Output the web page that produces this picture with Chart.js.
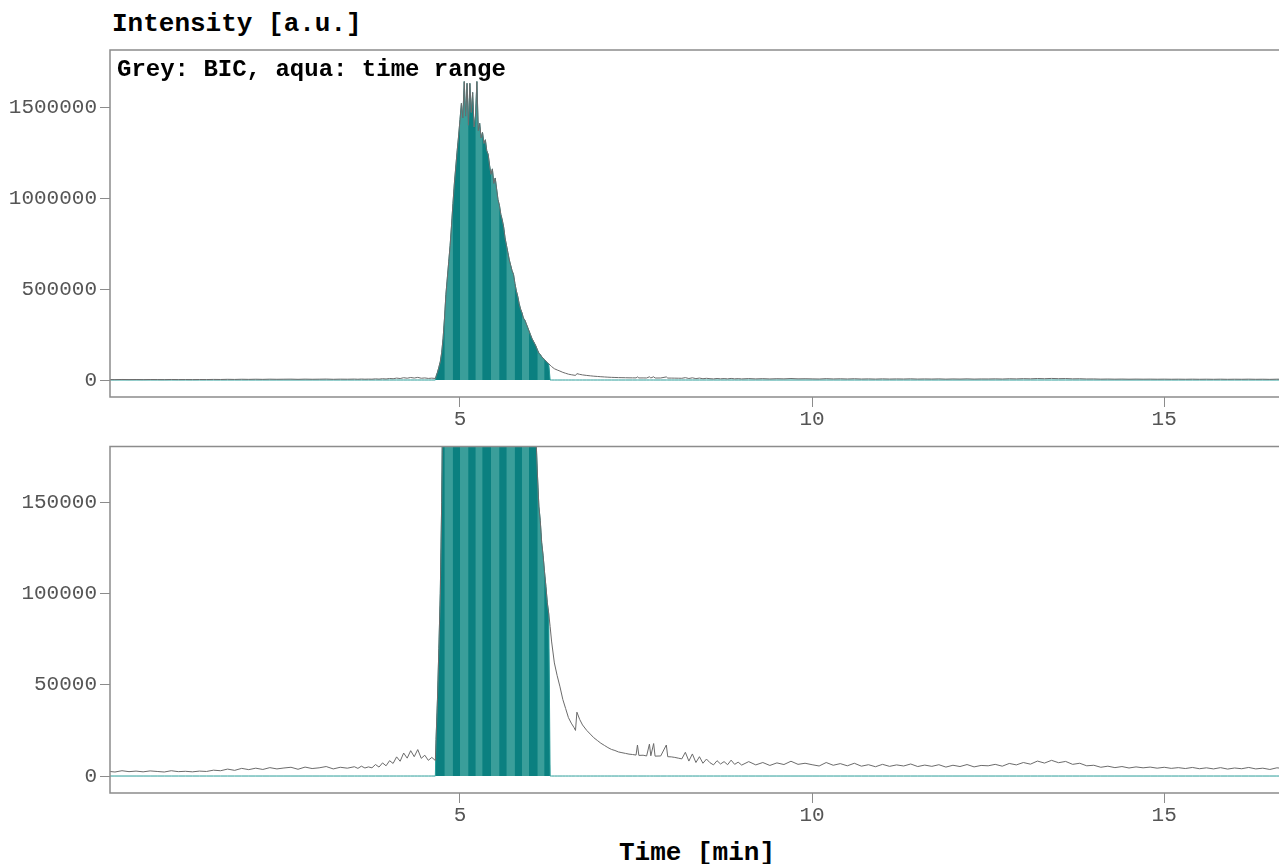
<!DOCTYPE html>
<html>
<head>
<meta charset="utf-8">
<script src="https://cdn.jsdelivr.net/npm/chart.js@4.4.1/dist/chart.umd.min.js"></script>
<style>
  body { margin: 0; background: #fff; width: 1279px; height: 864px; position: relative; overflow: hidden; font-family: "Liberation Mono", monospace; }
  .box { position: absolute; left: 0; width: 1279px; }
  #top { top: 0; height: 430px; }
  #bottom { top: 430px; height: 400px; }
  .lbl { position: absolute; font-weight: bold; color: #000; white-space: nowrap; }
</style>
</head>
<body>
<div class="lbl" style="left:112px; top:8px; font-size:26px; line-height:32px;">Intensity [a.u.]</div>
<div class="box" id="top"><canvas id="chartTop"></canvas></div>
<div class="box" id="bottom"><canvas id="chartBottom"></canvas></div>
<div class="lbl" style="left:117px; top:56px; font-size:24px; line-height:28px;">Grey: BIC, aqua: time range</div>
<div class="lbl" style="left:0; width:1394px; text-align:center; top:838px; font-size:26px; line-height:30px;">Time [min]</div>

<script>
// retention time [min]
const times = [
  0.0, 0.1, 0.2, 0.3, 0.4, 0.5, 0.6, 0.7, 0.8, 0.9,
  1.0, 1.1, 1.2, 1.3, 1.4, 1.5, 1.6, 1.7, 1.8, 1.9,
  2.0, 2.1, 2.2, 2.3, 2.4, 2.5, 2.6, 2.7, 2.8, 2.9,
  3.0, 3.1, 3.2, 3.3, 3.4, 3.5,
  3.55, 3.6, 3.65, 3.7, 3.75, 3.8, 3.85, 3.9, 3.95, 4.0,
  4.05, 4.1, 4.15, 4.2, 4.25, 4.3, 4.35, 4.4, 4.45, 4.5,
  4.55, 4.6, 4.65,
  4.66, 4.68, 4.70, 4.72, 4.74, 4.76, 4.78, 4.80, 4.82, 4.84,
  4.86, 4.88, 4.90, 4.92, 4.94, 4.96, 4.98, 5.00,
  5.02, 5.04, 5.06, 5.08, 5.10, 5.12, 5.14, 5.16, 5.18, 5.20,
  5.22, 5.24, 5.26, 5.28, 5.30, 5.32, 5.34, 5.36, 5.38, 5.40,
  5.42, 5.44, 5.46, 5.48, 5.50, 5.52, 5.54, 5.56, 5.58, 5.60,
  5.62, 5.64, 5.66, 5.68, 5.70, 5.72, 5.74, 5.76, 5.78, 5.80,
  5.82, 5.84, 5.86, 5.88, 5.90, 5.92, 5.94, 5.96, 5.98, 6.00,
  6.02, 6.04, 6.06, 6.08, 6.10, 6.12, 6.14, 6.16, 6.18, 6.20,
  6.22, 6.24, 6.26, 6.28, 6.30,
  6.34, 6.38, 6.42, 6.46, 6.50, 6.54, 6.58, 6.62, 6.64, 6.66,
  6.70, 6.74, 6.80, 6.85, 6.90, 6.95, 7.00, 7.05, 7.10, 7.15,
  7.20, 7.25, 7.30, 7.35, 7.40, 7.45, 7.50, 7.52, 7.54, 7.60,
  7.65, 7.69, 7.71, 7.75, 7.77, 7.85, 7.93, 7.95, 8.00, 8.05,
  8.10, 8.15, 8.20, 8.25, 8.30, 8.35, 8.40, 8.45, 8.50, 8.55,
  8.60, 8.65, 8.70, 8.75, 8.80, 8.85, 8.90, 8.95, 9.0,
  9.1, 9.2, 9.3, 9.4, 9.5, 9.6, 9.7, 9.8, 9.9, 10.0,
  10.1, 10.2, 10.3, 10.4, 10.5, 10.6, 10.7, 10.8, 10.9, 11.0,
  11.1, 11.2, 11.3, 11.4, 11.5, 11.6, 11.7, 11.8, 11.9, 12.0,
  12.1, 12.2, 12.3, 12.4, 12.5, 12.6, 12.7, 12.8, 12.9, 13.0,
  13.1, 13.2, 13.3, 13.4, 13.5, 13.6, 13.7, 13.8, 13.9, 14.0,
  14.1, 14.2, 14.3, 14.4, 14.5, 14.6, 14.7, 14.8, 14.9, 15.0,
  15.1, 15.2, 15.3, 15.4, 15.5, 15.6, 15.7, 15.8, 15.9, 16.0,
  16.1, 16.2, 16.3, 16.4, 16.5, 16.6, 16.7
];

// base ion chromatogram intensity [a.u.]
const bic = [
  2600, 2200, 2900, 2400, 2700, 2300, 2800, 2500, 2200, 2900,
  2400, 2600, 2300, 2700, 2500, 3200, 2900, 3800, 3100, 4200,
  3500, 4300, 3600, 4600, 3900, 4400, 4800, 3700, 4900, 4100,
  4500, 5200, 3900, 4800, 4300, 5100,
  4200, 5400, 4400, 5000, 4500, 6300, 4900, 7200, 5600, 8400,
  6900, 10500, 8100, 12600, 9800, 13900, 10600, 14500, 9700, 11400,
  8600, 10200, 8500,
  20000, 42000, 70000, 100000, 150000, 230000, 340000, 470000, 560000, 650000,
  740000, 850000, 970000, 1080000, 1170000, 1260000, 1340000, 1430000,
  1520000, 1440000, 1640000, 1450000, 1630000, 1400000, 1630000, 1470000, 1580000, 1390000,
  1450000, 1640000, 1370000, 1410000, 1330000, 1360000, 1300000, 1320000, 1260000, 1240000,
  1180000, 1130000, 1160000, 1080000, 1110000, 1050000, 990000, 960000, 910000, 880000,
  840000, 780000, 740000, 700000, 660000, 630000, 600000, 580000, 530000, 490000,
  460000, 420000, 390000, 370000, 340000, 330000, 310000, 290000, 270000, 250000,
  230000, 215000, 200000, 185000, 165000, 148000, 140000, 128000, 121000, 112000,
  104000, 95000, 89000, 82000, 74000,
  62000, 55000, 48900, 42000, 37000, 32000, 29000, 26500, 25000, 35000,
  31000, 28000, 25000, 23000, 21000, 19500, 18000, 16800, 15600, 14600,
  14000, 13200, 12800, 12400, 12000, 11800, 11500, 17000, 11300, 11400,
  11000, 17500, 11100, 17800, 10900, 11000, 17000, 10600, 10500, 10200,
  9800, 9400, 13000, 8200, 12100, 7400, 10600, 7000, 9300, 7300,
  6100, 8400, 6600, 7900, 6200, 8700, 6400, 7600, 6000,
  7900, 6100, 7400, 5800, 7200, 6300, 8100, 6400, 7000, 6200,
  5500, 7400, 5900, 6800, 5600, 7000, 5400, 6200, 5100, 6400,
  5300, 6100, 5500, 6600, 5200, 6000, 5300, 6200, 4900, 5900,
  5200, 6300, 5000, 5800, 5600, 6400, 5400, 6900, 6100, 7400,
  6500, 8200, 7100, 8600, 7300, 8000, 6400, 7000, 5600, 5900,
  4800, 5400, 4600, 5200, 4400, 5000, 4500, 4900, 4300, 4800,
  4200, 4600, 4100, 4700, 4000, 4500, 3900, 4600, 3800, 4400,
  4000, 4700, 3900, 4300, 3600, 4500, 4100
];

const rangeStart = 4.66;
const rangeEnd = 6.27;

const xTicks = [5, 10, 15];
const topTicks = [0, 500000, 1000000, 1500000];
const bottomTicks = [0, 50000, 100000, 150000];

if (times.length !== bic.length) console.log('length mismatch', times.length, bic.length);

const bicPoints = times.map((t, i) => ({x: t, y: bic[i]}));
const rangePoints = times.map((t, i) => ({x: t, y: (t >= rangeStart && t <= rangeEnd) ? bic[i] : 0}));

function stripe(x) {
  return Math.floor((x - rangeStart) / 0.11) % 2 === 0 ? '#0b8080' : '#3a9e9a';
}

const tickFont = {family: 'Liberation Mono', size: 21};

const framePlugin = {
  id: 'frame',
  afterDatasetsDraw(chart) {
    const {ctx, chartArea: a} = chart;
    ctx.save();
    ctx.strokeStyle = '#8c8c8c';
    ctx.lineWidth = 1.5;
    ctx.beginPath();
    ctx.moveTo(a.right, a.top);
    ctx.lineTo(a.left, a.top);
    ctx.lineTo(a.left, a.bottom);
    ctx.lineTo(a.right, a.bottom);
    ctx.stroke();
    ctx.restore();
  }
};

function makePanel(id, yMin, yMax, yTicks, padTop, axisH) {
  return new Chart(document.getElementById(id), {
    type: 'line',
    data: {
      datasets: [
        {
          label: 'BIC',
          data: bicPoints,
          borderColor: '#6b6b6b',
          borderWidth: 1,
          pointRadius: 0,
          fill: false,
          order: 0
        },
        {
          label: 'time range',
          data: rangePoints,
          borderColor: '#2a9d99',
          borderWidth: 1,
          pointRadius: 0,
          backgroundColor: '#0b8080',
          fill: 'origin',
          segment: { backgroundColor: c => stripe(c.p0.parsed.x) },
          order: 1
        },
        {
          // solid underlay so the stripe seams don't show white
          label: 'time range base',
          data: rangePoints,
          borderWidth: 0,
          pointRadius: 0,
          backgroundColor: '#1a8a88',
          fill: 'origin',
          order: 2
        }
      ]
    },
    options: {
      responsive: true,
      maintainAspectRatio: false,
      animation: false,
      layout: { padding: { top: padTop, left: 0, right: 0, bottom: 0 } },
      plugins: { legend: { display: false }, tooltip: { enabled: false } },
      scales: {
        x: {
          type: 'linear',
          min: 0.03,
          max: 16.63,
          afterBuildTicks: s => { s.ticks = xTicks.map(v => ({value: v})); },
          afterFit: s => { s.height = axisH; },
          border: { display: false },
          grid: { drawOnChartArea: false, drawTicks: true, tickLength: 10, color: '#8c8c8c' },
          ticks: { color: '#555', font: tickFont, padding: 0, maxRotation: 0 }
        },
        y: {
          min: yMin,
          max: yMax,
          afterBuildTicks: s => { s.ticks = yTicks.map(v => ({value: v})); },
          afterFit: s => { s.width = 110; },
          border: { display: false },
          grid: { drawOnChartArea: false, drawTicks: true, tickLength: 10, color: '#8c8c8c' },
          ticks: { color: '#555', font: tickFont, padding: 3, callback: v => String(v) }
        }
      }
    },
    plugins: [framePlugin]
  });
}

makePanel('chartTop', -93400, 1813200, topTicks, 50, 33);
makePanel('chartBottom', -9307, 180657, bottomTicks, 16.5, 37);
</script>
</body>
</html>
